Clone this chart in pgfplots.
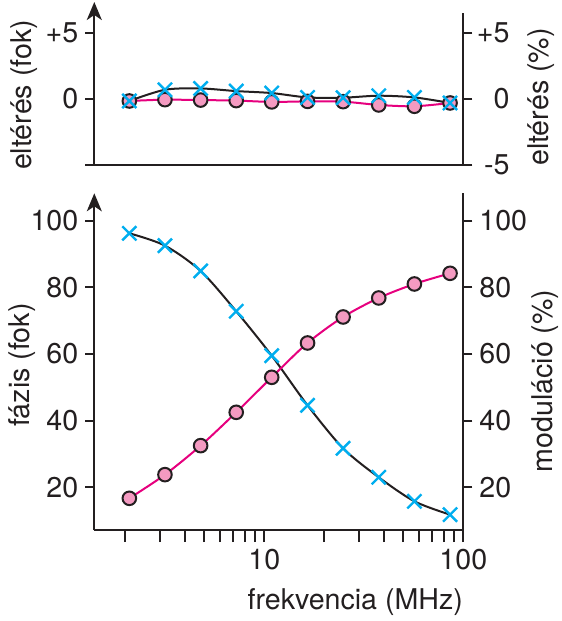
\documentclass[border=0pt]{standalone}
\usepackage{pgfplots}
\pgfplotsset{compat=1.18}
\usepackage{pgfplotstable}
\usepackage{fontspec}
\setmainfont{TeX Gyre Heros}
\usetikzlibrary{arrows.meta}
\definecolor{ink}{HTML}{231F20}
\definecolor{mag}{HTML}{E6007E}
\definecolor{pinkfill}{HTML}{F49AC1}
\definecolor{cyanx}{HTML}{00AEEF}

\pgfplotstableread{
f phase mod
2.10 96.2 16.7
3.17 92.5 23.8
4.79 84.9 32.5
7.23 72.8 42.5
10.9 59.5 53.0
16.5 44.6 63.3
24.9 31.7 71.1
37.6 23.0 76.8
56.8 15.8 81.0
85.8 11.8 84.2
}\maindata

\pgfplotstableread{
f dphase dmod
2.10 -0.15 -0.15
3.17 0.70 -0.05
4.79 0.80 -0.08
7.23 0.60 -0.12
10.9 0.45 -0.22
16.5 0.12 -0.18
24.9 0.10 -0.20
37.6 0.25 -0.45
56.8 0.12 -0.55
85.8 -0.30 -0.30
}\devdata

\pgfplotsset{
  base/.style={scale only axis, width=184.5pt, xmin=1.40, xmax=100,
    /pgf/number format/assume math mode=true,
    tick align=outside, major tick length=4.5pt,
    every tick/.style={ink, line width=1pt},
    axis line style={ink, line width=1pt},
    tick label style={font=\fontsize{14.3}{16}\selectfont, text=ink},
    label style={font=\fontsize{14.3}{16}\selectfont, text=ink, inner sep=0pt},
    clip=false,
  },
  arrowy/.style={y axis line style={-{Stealth[length=9pt,width=7.5pt,inset=2.5pt]}}},
  curveblack/.style={ink, line width=1pt, smooth, no markers},
  curvemag/.style={mag, line width=1pt, smooth, no markers},
  circ/.style={only marks, mark=*, mark size=3.4pt, mark options={fill=pinkfill, draw=ink, line width=1pt}},
  crs/.style={only marks, mark=x, mark size=5pt, mark options={draw=cyanx, line width=1.2pt}},
}

\begin{document}
\begin{tikzpicture}
\path[use as bounding box] (0,0) rectangle (281pt,-310.5pt);

% ---------- top panel ----------
\begin{axis}[xmode=log, base, at={(47.15pt,-82.5pt)}, anchor=south west, height=81.5pt,
  ymin=-5, ymax=7.35, axis y line*=left, axis x line*=bottom, arrowy,
  x axis line style={-}, xtick=\empty, minor xtick={},
  ytick={-5,0,5}, yticklabels={,0,+5},
  ylabel={eltérés (fok)},
  ylabel style={at={(axis description cs:-0.2285,0.43)}, anchor=north}]
\addplot[curveblack] table[x=f,y=dphase]{\devdata};
\addplot[curvemag] table[x=f,y=dmod]{\devdata};
\addplot[circ] table[x=f,y=dmod]{\devdata};
\addplot[crs] table[x=f,y=dphase]{\devdata};
\end{axis}

\begin{axis}[xmode=log, base, at={(47.15pt,-82.5pt)}, anchor=south west, height=75.85pt,
  ymin=-5, ymax=6.5, axis y line*=right, axis x line=none,
  y axis line style={-},
  ytick={-5,0,5}, yticklabels={-5,0,+5},
  yticklabel style={anchor=east, inner sep=0pt, xshift=18.85pt},
  ylabel={eltérés (\%)},
  ylabel style={at={(axis description cs:1.1726,0.448)}, anchor=north}]
\end{axis}

% ---------- bottom panel ----------
\begin{axis}[xmode=log, base, at={(47.15pt,-265pt)}, anchor=south west, height=168.35pt,
  ymin=7.19, ymax=108.2, axis y line*=left, axis x line*=bottom, arrowy,
  x axis line style={-}, xtick=\empty, minor xtick={},
  ytick={20,40,60,80,100},
  ylabel={fázis (fok)},
  ylabel style={at={(axis description cs:-0.2339,0.49)}, anchor=north}]
\end{axis}

\begin{axis}[xmode=log, base, at={(47.15pt,-265pt)}, anchor=south west, height=168.35pt,
  ymin=7.19, ymax=108.2, axis y line*=right, axis x line=none,
  y axis line style={-},
  ytick={20,40,60,80,100},
  ylabel={moduláció (\%)},
  ylabel style={at={(axis description cs:1.185,0.4425)}, anchor=north}]
\end{axis}

\begin{axis}[xmode=log, base, at={(47.15pt,-265pt)}, anchor=south west, height=168.35pt,
  ymin=7.19, ymax=108.2, axis x line*=bottom, axis y line=none,
  x axis line style={-},
  major tick length=6pt, minor tick length=6pt,
  xtick={10,100}, xticklabels={10,100},
  minor xtick={2,3,4,5,6,7,8,9,20,30,40,50,60,70,80,90},
  xlabel={frekvencia (MHz)},
  xlabel style={at={(axis description cs:1,0)}, anchor=north east, yshift=-29pt}]
\addplot[curveblack] table[x=f,y=phase]{\maindata};
\addplot[curvemag] table[x=f,y=mod]{\maindata};
\addplot[circ] table[x=f,y=mod]{\maindata};
\addplot[crs] table[x=f,y=phase]{\maindata};
\end{axis}
\end{tikzpicture}
\end{document}
